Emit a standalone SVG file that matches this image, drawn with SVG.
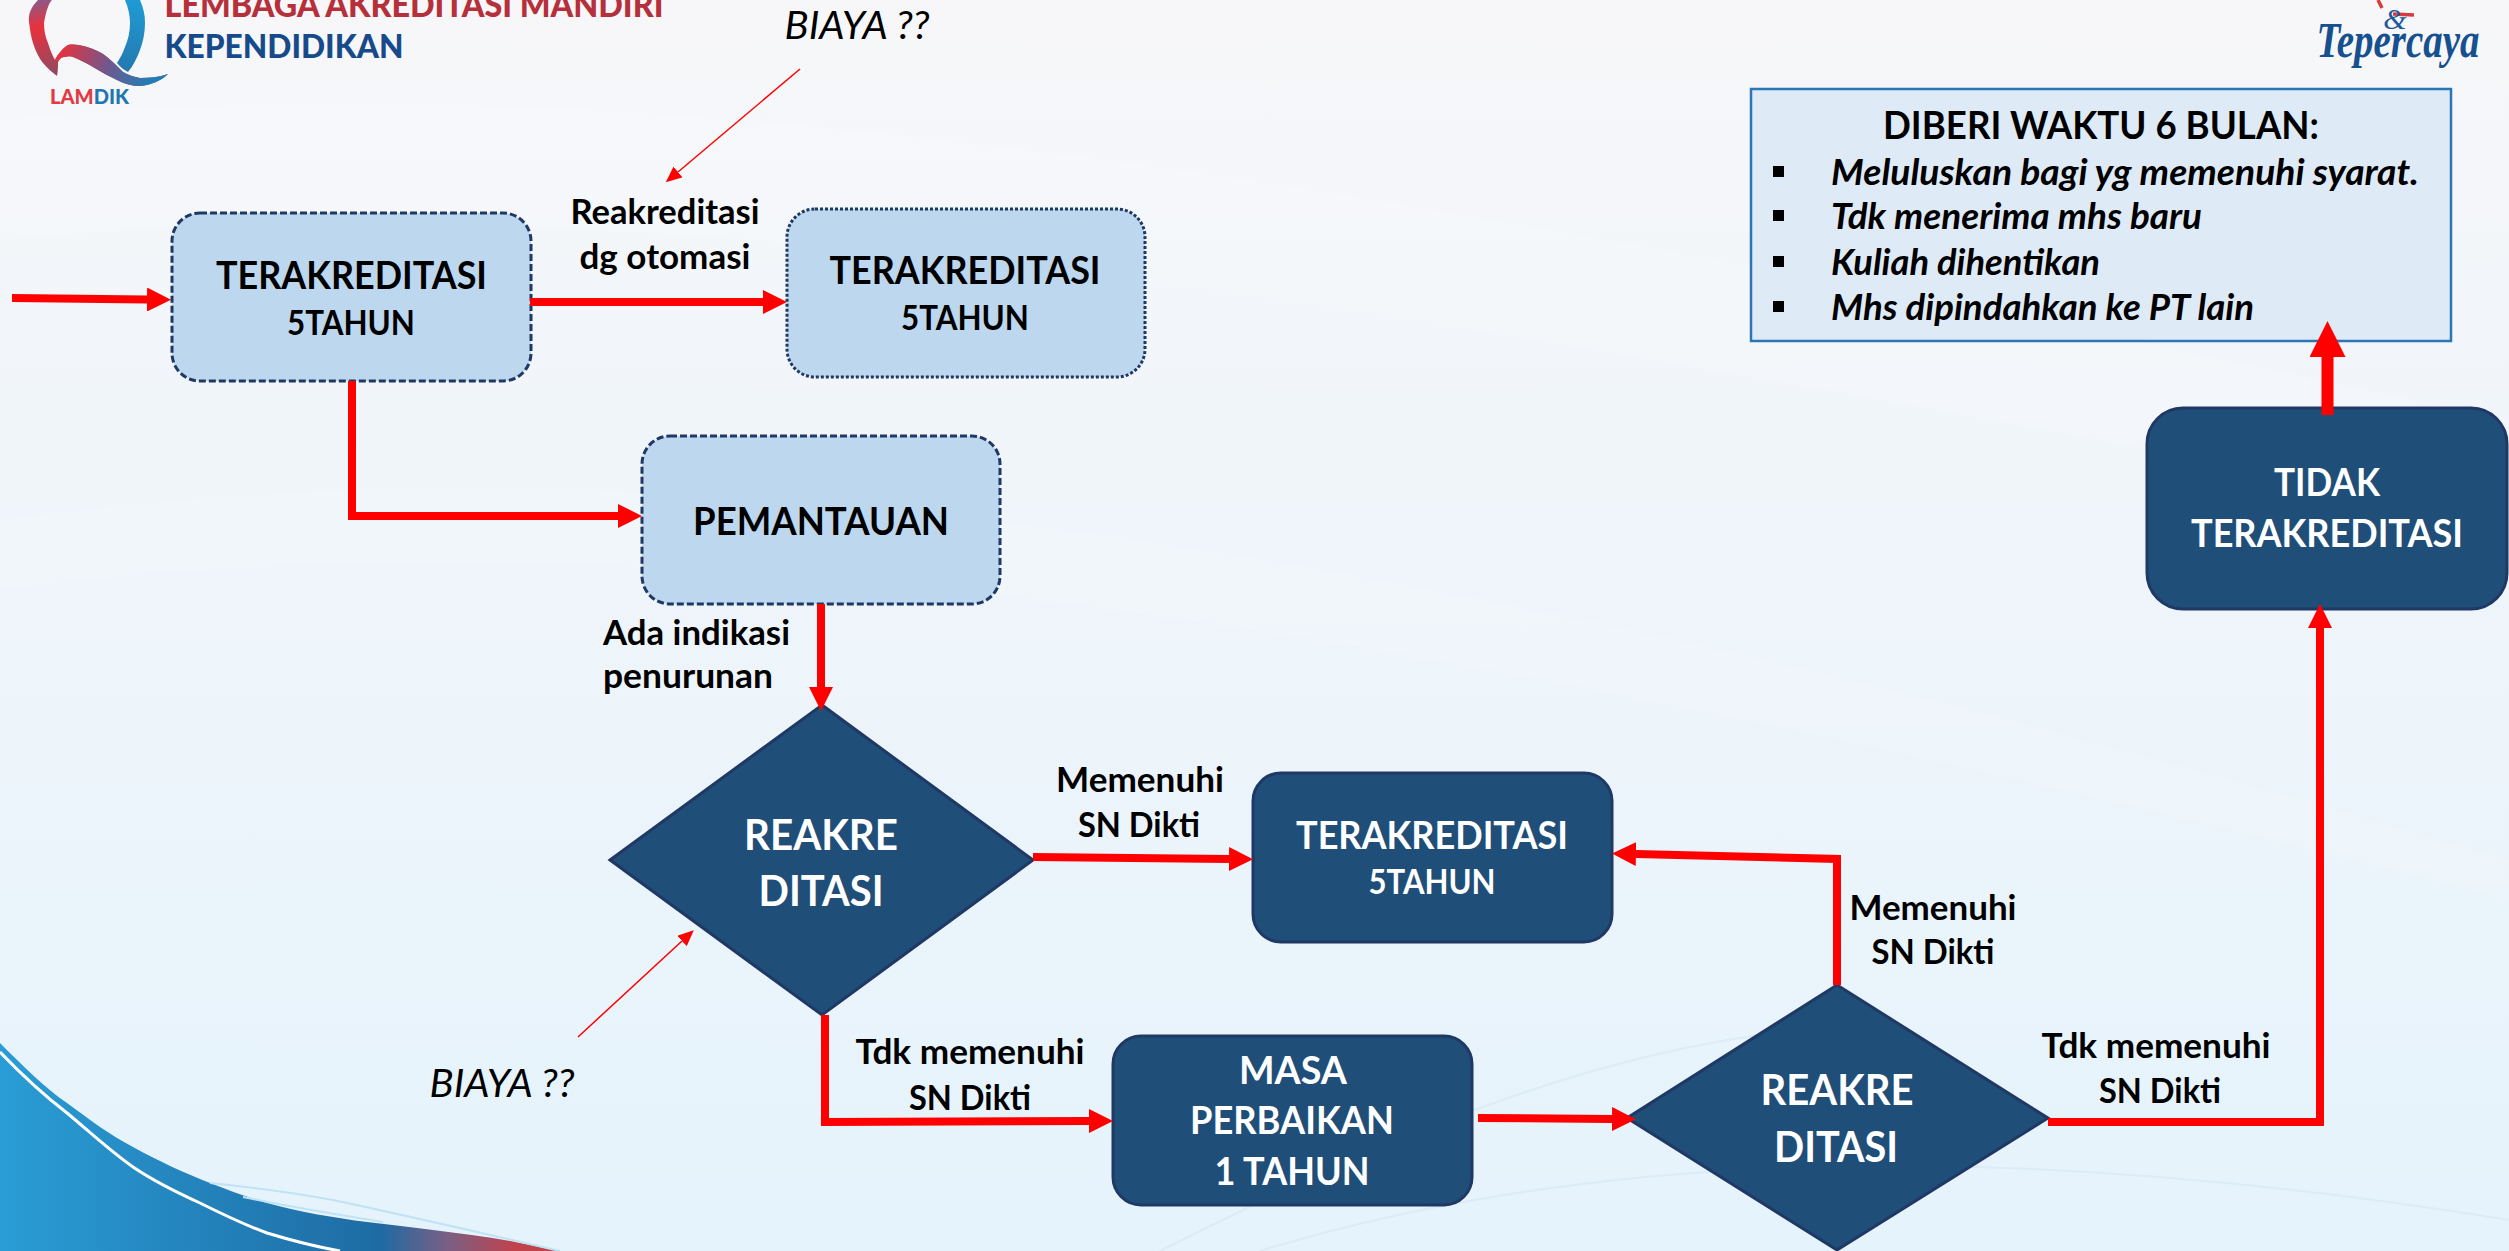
<svg xmlns="http://www.w3.org/2000/svg" width="2509" height="1251" viewBox="0 0 2509 1251">
<defs>
<linearGradient id="bg" x1="0" y1="0" x2="0" y2="1"><stop offset="0" stop-color="#f7f7f9"/><stop offset="0.45" stop-color="#eff5fa"/><stop offset="1" stop-color="#e5f3fc"/></linearGradient>
<linearGradient id="sw" gradientUnits="userSpaceOnUse" x1="0" y1="0" x2="560" y2="0"><stop offset="0" stop-color="#2a9dd6"/><stop offset="0.68" stop-color="#1e6ba3"/><stop offset="0.8" stop-color="#7a5f84"/><stop offset="0.92" stop-color="#c0434c"/></linearGradient>
<linearGradient id="qs" gradientUnits="userSpaceOnUse" x1="60" y1="50" x2="150" y2="85"><stop offset="0" stop-color="#e8323e"/><stop offset="0.55" stop-color="#6a5a90"/><stop offset="1" stop-color="#1f7fb8"/></linearGradient>
<linearGradient id="ql" gradientUnits="userSpaceOnUse" x1="35" y1="0" x2="50" y2="76"><stop offset="0" stop-color="#8a5a88"/><stop offset="0.35" stop-color="#e8323e"/><stop offset="1" stop-color="#8f4a62"/></linearGradient>
<linearGradient id="qb" gradientUnits="userSpaceOnUse" x1="135" y1="0" x2="120" y2="72"><stop offset="0" stop-color="#1f9ad4"/><stop offset="1" stop-color="#2478ad"/></linearGradient>
<marker id="h" markerUnits="userSpaceOnUse" markerWidth="24" markerHeight="24" refX="0" refY="12" orient="auto"><path d="M0,0L24,12L0,24z" fill="#ff0000"/></marker>
<marker id="hb" markerUnits="userSpaceOnUse" markerWidth="36" markerHeight="36" refX="0" refY="18" orient="auto"><path d="M0,0L36,18L0,36z" fill="#ff0000"/></marker>
<marker id="ht" markerUnits="userSpaceOnUse" markerWidth="16" markerHeight="14" refX="0" refY="7" orient="auto"><path d="M0,0L16,7L0,14z" fill="#ff0000"/></marker>
</defs>
<style>
text{font-family:"Lato","Liberation Sans",sans-serif;text-anchor:middle}
.b{font-weight:700;font-size:38px;fill:#000}
.w{font-weight:700;font-size:38px;fill:#fff}
.s{font-size:34px}
.d{font-size:42px}
.l{font-weight:700;font-size:34px;fill:#000}
.i{font-style:italic;font-weight:400;font-size:39px;fill:#000}
.n{font-weight:700;font-style:italic;font-size:37px;fill:#000;text-anchor:start}
.lt{fill:#bdd7ee;stroke:#1f3864;stroke-width:3}
.dk{fill:#1f4e79;stroke:#1f3864;stroke-width:3}
.c{fill:none;stroke:#ff0000;stroke-width:8;stroke-linejoin:miter}
.t{fill:none;stroke:#ff0000;stroke-width:1.5}
</style>
<g id="background">
<rect width="2509" height="1251" fill="url(#bg)"/>
<path d="M0,120C600,60 1300,160 2509,420L2509,520C1300,280 600,180 0,240z" fill="#fff" opacity="0.15"/>
<path d="M0,520C700,420 1500,560 2509,860L2509,900C1500,640 700,500 0,590z" fill="#fff" opacity="0.12"/>
<g fill="none" stroke="#cfe4f1" stroke-width="2" opacity="0.45">
<path d="M1160,1251C1400,1130 1600,1050 1800,1030"/>
<path d="M1260,1251C1560,1160 1950,1130 2509,1220"/>
</g>
<path d="M0,1043C25,1068 45,1088 67,1103C90,1120 110,1135 133,1147C160,1162 185,1173 210,1183C230,1191 250,1198 267,1203C300,1212 335,1218 367,1222C390,1225 412,1227 433,1230C462,1234 492,1237 520,1243C535,1246 548,1249 560,1251L0,1251z" fill="url(#sw)"/>
<path d="M0,1052C22,1075 45,1096 67,1113C90,1132 110,1151 133,1167C155,1182 178,1193 200,1203C222,1214 245,1225 267,1233C290,1240 312,1246 340,1251" fill="none" stroke="#fff" stroke-width="3"/>
<path d="M210,1183C250,1187 290,1192 333,1200C395,1213 460,1228 560,1251M243,1197C290,1207 340,1215 383,1222" fill="none" stroke="#bfe2f4" stroke-width="2"/>
</g>
<g id="logo-lamdik">
<path d="M38,0C31,7 28,14 29,22C30,30 31,37 33,43C36,52 39,58 43,63C47,68 52,72 57,76C58,71 58,66 58,62C60,58 62,57 65,57C68,56 71,56 73,57C80,60 87,63 93,67C101,72 109,76 117,80C125,84 132,86 140,86C151,85 161,81 168,74C159,77 150,78 140,78C134,77 128,75 123,72C118,67 113,62 107,57C101,52 94,49 87,47C80,45 74,44 68,45C63,48 58,54 55,60C52,55 50,49 48,43C45,36 44,30 44,23C45,17 46,12 48,7C49,4 50,2 52,0z" fill="url(#ql)"/>
<path d="M58,62C60,58 62,57 65,57C68,56 71,56 73,57C80,60 87,63 93,67C101,72 109,76 117,80C125,84 132,86 140,86C151,85 161,81 168,74C159,77 150,78 140,78C134,77 128,75 123,72C118,67 113,62 107,57C101,52 94,49 87,47C80,45 74,44 68,45C63,48 58,54 55,60z" fill="url(#qs)"/>
<path d="M125,0C128,7 130,15 130,23C130,32 128,40 125,47C123,53 120,58 117,63C120,67 124,70 128,72C133,66 137,58 140,50C143,42 145,33 145,23C145,14 143,7 140,0z" fill="url(#qb)"/>
<text x="414" y="17" font-size="34" font-weight="900" fill="#b5303a" textLength="499" lengthAdjust="spacingAndGlyphs">LEMBAGA AKREDITASI MANDIRI</text>
<text x="284" y="58" font-size="33" font-weight="900" fill="#164a8a" textLength="239" lengthAdjust="spacingAndGlyphs">KEPENDIDIKAN</text>
<text x="89.500" y="104" font-size="21" font-weight="900" fill="#e03a45" textLength="79" lengthAdjust="spacingAndGlyphs">LAM<tspan fill="#1f77ae">DIK</tspan></text>
</g>
<g id="logo-tepercaya">
<path d="M2378,0L2382,8M2393,14L2414,15" fill="none" stroke="#d83a3f" stroke-width="3.5"/>
<text x="2395" y="29" font-size="30" font-style="italic" fill="#1a5a9c" style="font-family:'Liberation Serif',serif">&amp;</text>
<text x="2398" y="57" font-size="50" font-weight="700" font-style="italic" fill="#16508f" textLength="163" lengthAdjust="spacingAndGlyphs" style="font-family:'Liberation Serif',serif">Tepercaya</text>
</g>
<g id="node-terakreditasi-1">
<rect class="lt" x="172" y="213" width="359" height="168" rx="28" stroke-dasharray="7 3"/>
<text class="b" x="351.500" y="289" textLength="271" lengthAdjust="spacingAndGlyphs">TERAKREDITASI</text>
<text class="b s" x="351" y="335" textLength="128" lengthAdjust="spacingAndGlyphs">5TAHUN</text>
</g>
<g id="node-terakreditasi-2">
<rect class="lt" x="787" y="209" width="358" height="168" rx="28" stroke-dasharray="3 2"/>
<text class="b" x="965" y="284" textLength="271" lengthAdjust="spacingAndGlyphs">TERAKREDITASI</text>
<text class="b s" x="965" y="330" textLength="128" lengthAdjust="spacingAndGlyphs">5TAHUN</text>
</g>
<g id="node-pemantauan">
<rect class="lt" x="642" y="436" width="358" height="168" rx="28" stroke-dasharray="7 3"/>
<text class="b" x="821" y="535" textLength="256" lengthAdjust="spacingAndGlyphs">PEMANTAUAN</text>
</g>
<g id="node-reakreditasi-1">
<polygon class="dk" points="822,705 1033,860 822,1015 610,860"/>
<text class="w d" x="821" y="850" textLength="154" lengthAdjust="spacingAndGlyphs">REAKRE</text>
<text class="w d" x="821" y="906" textLength="125" lengthAdjust="spacingAndGlyphs">DITASI</text>
</g>
<g id="node-terakreditasi-3">
<rect class="dk" x="1253" y="773" width="359" height="169" rx="28"/>
<text class="w" x="1432" y="849" textLength="272" lengthAdjust="spacingAndGlyphs">TERAKREDITASI</text>
<text class="w s" x="1432" y="894" textLength="127" lengthAdjust="spacingAndGlyphs">5TAHUN</text>
</g>
<g id="node-masa-perbaikan">
<rect class="dk" x="1113" y="1036" width="359" height="169" rx="28"/>
<text class="w" x="1293" y="1084" textLength="108" lengthAdjust="spacingAndGlyphs">MASA</text>
<text class="w" x="1292" y="1134" textLength="204" lengthAdjust="spacingAndGlyphs">PERBAIKAN</text>
<text class="w" x="1292" y="1185" textLength="155" lengthAdjust="spacingAndGlyphs">1 TAHUN</text>
</g>
<g id="node-reakreditasi-2">
<polygon class="dk" points="1837,985 2048,1118 1837,1250 1627,1118"/>
<text class="w d" x="1837" y="1105" textLength="153" lengthAdjust="spacingAndGlyphs">REAKRE</text>
<text class="w d" x="1836" y="1162" textLength="124" lengthAdjust="spacingAndGlyphs">DITASI</text>
</g>
<g id="node-tidak-terakreditasi">
<rect class="dk" x="2147" y="408" width="360" height="201" rx="36"/>
<text class="w" x="2327" y="496" textLength="106" lengthAdjust="spacingAndGlyphs">TIDAK</text>
<text class="w" x="2327" y="547" textLength="272" lengthAdjust="spacingAndGlyphs">TERAKREDITASI</text>
</g>
<g id="node-info">
<rect x="1751" y="89" width="700" height="252" fill="#deeaf6" stroke="#2e75b6" stroke-width="2.5"/>
<text class="b" x="2101" y="139" textLength="436" lengthAdjust="spacingAndGlyphs">DIBERI WAKTU 6 BULAN:</text>
<g fill="#000"><rect x="1773" y="166" width="11" height="11"/><rect x="1773" y="210" width="11" height="11"/><rect x="1773" y="256" width="11" height="11"/><rect x="1773" y="301" width="11" height="11"/></g>
<text class="n" x="1831" y="185" textLength="588" lengthAdjust="spacingAndGlyphs">Meluluskan bagi yg memenuhi syarat.</text>
<text class="n" x="1831" y="229" textLength="371" lengthAdjust="spacingAndGlyphs">Tdk menerima mhs baru</text>
<text class="n" x="1831" y="275" textLength="269" lengthAdjust="spacingAndGlyphs">Kuliah dihentikan</text>
<text class="n" x="1831" y="320" textLength="423" lengthAdjust="spacingAndGlyphs">Mhs dipindahkan ke PT lain</text>
</g>
<g id="connectors">
<path class="c" d="M12,298L147,299.500" marker-end="url(#h)"/>
<path class="c" d="M530,302L763,302" marker-end="url(#h)"/>
<path class="c" d="M352,381L352,516L618,516" marker-end="url(#h)"/>
<path class="c" d="M821,604L821,687" marker-end="url(#h)"/>
<path class="c" d="M1033,857L1229,859" marker-end="url(#h)"/>
<path class="c" d="M825,1015L825,1122L1089,1121" marker-end="url(#h)"/>
<path class="c" d="M1837,985L1837,859L1636,854" marker-end="url(#h)"/>
<path class="c" d="M1478,1118L1612,1119" marker-end="url(#h)"/>
<path class="c" d="M2048,1122L2320,1122L2320,628" marker-end="url(#h)"/>
<path class="c" style="stroke-width:12" d="M2327.500,415L2327.500,357" marker-end="url(#hb)"/>
<path class="t" d="M800,69L678,172" marker-end="url(#ht)"/>
<path class="t" d="M578,1037L682,941" marker-end="url(#ht)"/>
</g>
<g id="labels">
<text class="i" x="857" y="39" textLength="145" lengthAdjust="spacingAndGlyphs">BIAYA ??</text>
<text class="i" x="502" y="1097" textLength="145" lengthAdjust="spacingAndGlyphs">BIAYA ??</text>
<text class="l" x="665" y="224" textLength="189" lengthAdjust="spacingAndGlyphs">Reakreditasi</text>
<text class="l" x="665" y="269" textLength="171" lengthAdjust="spacingAndGlyphs">dg otomasi</text>
<text class="l" x="603" y="645" style="text-anchor:start" textLength="187" lengthAdjust="spacingAndGlyphs">Ada indikasi</text>
<text class="l" x="603" y="688" style="text-anchor:start" textLength="170" lengthAdjust="spacingAndGlyphs">penurunan</text>
<text class="l" x="1140" y="792" textLength="168" lengthAdjust="spacingAndGlyphs">Memenuhi</text>
<text class="l" x="1139" y="837" textLength="122" lengthAdjust="spacingAndGlyphs">SN Dikti</text>
<text class="l" x="970" y="1064" textLength="229" lengthAdjust="spacingAndGlyphs">Tdk memenuhi</text>
<text class="l" x="970" y="1110" textLength="122" lengthAdjust="spacingAndGlyphs">SN Dikti</text>
<text class="l" x="1933" y="920" textLength="167" lengthAdjust="spacingAndGlyphs">Memenuhi</text>
<text class="l" x="1933" y="964" textLength="123" lengthAdjust="spacingAndGlyphs">SN Dikti</text>
<text class="l" x="2156" y="1058" textLength="229" lengthAdjust="spacingAndGlyphs">Tdk memenuhi</text>
<text class="l" x="2160" y="1103" textLength="122" lengthAdjust="spacingAndGlyphs">SN Dikti</text>
</g>
</svg>
